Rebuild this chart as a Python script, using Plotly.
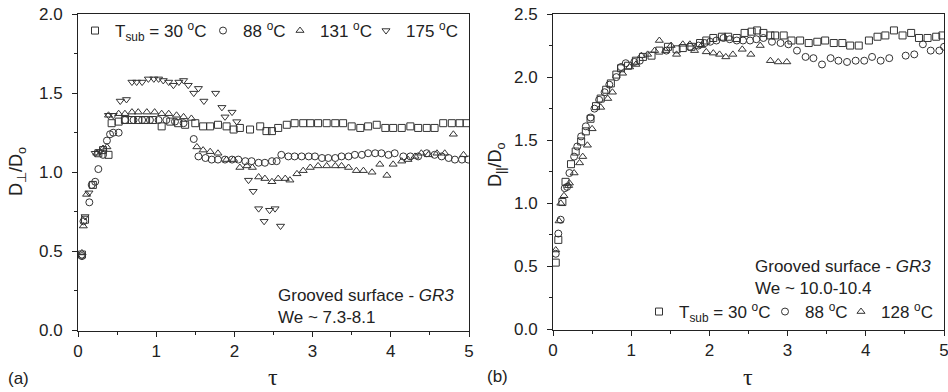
import plotly.graph_objects as go

# ---------------- Panel (a): D_perp / D_o ----------------
a30_x = [0.05, 0.09, 0.19, 0.26, 0.32, 0.39, 0.43, 0.52, 0.60, 0.69, 0.77, 0.86, 0.96, 1.07, 1.18, 1.28,
         1.37, 1.50, 1.60, 1.69, 1.79, 1.90, 1.99, 2.07, 2.20, 2.33, 2.41, 2.48, 2.56, 2.67, 2.77, 2.88,
         2.97, 3.07, 3.18, 3.29, 3.39, 3.50, 3.61, 3.71, 3.82, 3.93, 4.03, 4.14, 4.25, 4.35, 4.46, 4.56,
         4.67, 4.78, 4.88, 4.97]
a30_y = [0.48, 0.70, 0.92, 1.12, 1.14, 1.11, 1.31, 1.32, 1.33, 1.33, 1.33, 1.33, 1.33, 1.29, 1.32, 1.31,
         1.30, 1.31, 1.29, 1.29, 1.30, 1.29, 1.27, 1.28, 1.27, 1.29, 1.26, 1.26, 1.28, 1.30, 1.31, 1.31,
         1.31, 1.31, 1.31, 1.31, 1.31, 1.29, 1.28, 1.29, 1.30, 1.28, 1.28, 1.28, 1.29, 1.28, 1.28, 1.28,
         1.31, 1.31, 1.31, 1.31]

a88_x = [0.05, 0.07, 0.145, 0.175, 0.22, 0.26, 0.32, 0.37, 0.41, 0.45, 0.52, 0.60, 0.71, 0.82, 0.92, 1.03,
         1.13, 1.24, 1.35, 1.48, 1.54, 1.63, 1.71, 1.79, 1.88, 1.97, 2.05, 2.14, 2.22, 2.31, 2.39, 2.48,
         2.54, 2.60, 2.69, 2.77, 2.86, 2.95, 3.03, 3.12, 3.20, 3.29, 3.37, 3.46, 3.54, 3.63, 3.71, 3.80,
         3.88, 3.97, 4.05, 4.16, 4.25, 4.35, 4.46, 4.56, 4.65, 4.74, 4.82, 4.91, 4.99]
a88_y = [0.47, 0.69, 0.81, 0.92, 0.94, 1.02, 1.11, 1.20, 1.24, 1.25, 1.25, 1.33, 1.33, 1.33, 1.33, 1.33,
         1.33, 1.32, 1.31, 1.21, 1.10, 1.09, 1.08, 1.08, 1.08, 1.08, 1.08, 1.07, 1.07, 1.06, 1.06, 1.07,
         1.07, 1.11, 1.10, 1.10, 1.10, 1.10, 1.10, 1.09, 1.09, 1.09, 1.10, 1.10, 1.11, 1.11, 1.12, 1.12,
         1.12, 1.11, 1.12, 1.10, 1.10, 1.10, 1.12, 1.11, 1.10, 1.09, 1.08, 1.08, 1.08]

a131_x = [0.05, 0.068, 0.11, 0.24, 0.32, 0.37, 0.39, 0.52, 0.60, 0.69, 0.77, 0.88, 0.98, 1.07, 1.16, 1.26,
          1.35, 1.45, 1.52, 1.60, 1.69, 1.79, 1.90, 1.99, 2.07, 2.16, 2.23, 2.31, 2.39, 2.48, 2.56, 2.65,
          2.71, 2.80, 2.88, 2.97, 3.07, 3.18, 3.29, 3.37, 3.46, 3.56, 3.65, 3.76, 3.86, 3.95, 4.03, 4.14,
          4.22, 4.31, 4.39, 4.48, 4.59, 4.69, 4.80, 4.93]
a131_y = [0.49, 0.66, 0.86, 1.12, 1.15, 1.16, 1.36, 1.37, 1.37, 1.38, 1.38, 1.38, 1.38, 1.37, 1.37, 1.36,
          1.35, 1.34, 1.16, 1.14, 1.13, 1.12, 1.08, 1.08, 1.03, 1.04, 1.03, 0.97, 0.96, 0.94, 0.96, 0.96,
          0.95, 0.99, 1.01, 1.03, 1.04, 1.04, 1.04, 1.04, 1.03, 1.01, 1.01, 1.00, 1.05, 0.98, 1.05, 1.07,
          1.08, 1.10, 1.12, 1.11, 1.12, 1.12, 1.24, 1.11]

a175_x = [0.05, 0.09, 0.14, 0.22, 0.28, 0.39, 0.45, 0.54, 0.62, 0.69, 0.75, 0.82, 0.90, 0.97, 1.03, 1.09,
          1.16, 1.22, 1.29, 1.35, 1.41, 1.48, 1.54, 1.61, 1.76, 1.84, 1.88, 1.97, 2.03, 2.18, 2.24, 2.31,
          2.38, 2.45, 2.52, 2.59]
a175_y = [0.47, 0.72, 0.87, 1.12, 1.13, 1.36, 1.36, 1.45, 1.46, 1.57, 1.57, 1.57, 1.59, 1.59, 1.59, 1.58,
          1.57, 1.55, 1.57, 1.58, 1.55, 1.50, 1.53, 1.45, 1.50, 1.41, 1.35, 1.38, 1.32, 0.95, 0.88, 0.77,
          0.69, 0.76, 0.77, 0.66]

# ---------------- Panel (b): D_par / D_o ----------------
b30_x = [0.035, 0.068, 0.12, 0.16, 0.23, 0.29, 0.36, 0.42, 0.48, 0.55, 0.61, 0.68, 0.74, 0.81, 0.87, 0.96,
         1.06, 1.15, 1.26, 1.36, 1.47, 1.58, 1.66, 1.77, 1.88, 1.96, 2.05, 2.16, 2.24, 2.35, 2.45, 2.54,
         2.61, 2.69, 2.78, 2.84, 2.95, 3.05, 3.16, 3.27, 3.38, 3.48, 3.59, 3.70, 3.80, 3.91, 4.04, 4.15,
         4.25, 4.36, 4.47, 4.58, 4.68, 4.79, 4.90, 4.98]
b30_y = [0.53, 0.71, 1.01, 1.17, 1.31, 1.41, 1.49, 1.57, 1.67, 1.77, 1.83, 1.90, 1.95, 2.02, 2.07, 2.09,
         2.13, 2.16, 2.17, 2.21, 2.24, 2.22, 2.23, 2.24, 2.27, 2.29, 2.31, 2.32, 2.32, 2.31, 2.35, 2.36,
         2.37, 2.35, 2.33, 2.33, 2.33, 2.29, 2.29, 2.27, 2.28, 2.29, 2.27, 2.27, 2.25, 2.25, 2.29, 2.32,
         2.33, 2.37, 2.33, 2.35, 2.31, 2.31, 2.32, 2.33]

b88_x = [0.035, 0.068, 0.098, 0.15, 0.18, 0.21, 0.27, 0.31, 0.36, 0.42, 0.48, 0.53, 0.59, 0.66, 0.72, 0.81,
         0.87, 0.93, 1.04, 1.11, 1.45, 1.75, 1.86, 1.94, 2.01, 2.09, 2.18, 2.26, 2.35, 2.43, 2.52, 2.60,
         2.69, 2.80, 2.91, 3.01, 3.12, 3.23, 3.33, 3.44, 3.55, 3.65, 3.76, 3.87, 3.98, 4.08, 4.19, 4.30,
         4.51, 4.62, 4.73, 4.83, 4.94, 5.00]
b88_y = [0.60, 0.76, 0.87, 1.12, 1.13, 1.24, 1.37, 1.45, 1.53, 1.61, 1.68, 1.75, 1.82, 1.88, 1.94, 2.00,
         2.08, 2.11, 2.12, 2.13, 2.21, 2.24, 2.25, 2.27, 2.28, 2.29, 2.31, 2.30, 2.29, 2.29, 2.29, 2.30,
         2.31, 2.28, 2.27, 2.26, 2.21, 2.16, 2.15, 2.10, 2.15, 2.13, 2.12, 2.13, 2.13, 2.16, 2.13, 2.15,
         2.17, 2.18, 2.26, 2.21, 2.21, 2.24]

b128_x = [0.035, 0.078, 0.10, 0.14, 0.20, 0.21, 0.27, 0.34, 0.38, 0.44, 0.50, 0.61, 0.70, 0.76, 0.89, 0.98,
          1.06, 1.13, 1.21, 1.30, 1.36, 1.44, 1.51, 1.58, 1.66, 1.75, 1.81, 1.90, 1.96, 2.05, 2.13, 2.21,
          2.30, 2.42, 2.53, 2.65, 2.78, 2.88, 2.99]
b128_y = [0.63, 0.86, 1.00, 1.06, 1.14, 1.16, 1.24, 1.32, 1.37, 1.46, 1.59, 1.76, 1.83, 1.88, 2.03, 2.08,
          2.10, 2.17, 2.18, 2.21, 2.29, 2.21, 2.25, 2.18, 2.26, 2.26, 2.21, 2.25, 2.20, 2.19, 2.18, 2.16,
          2.18, 2.22, 2.18, 2.25, 2.13, 2.12, 2.12]

FONT = "Liberation Sans, Arial, Helvetica, sans-serif"
SERIF = "Liberation Serif, Times New Roman, serif"
INK = "#222222"
MK = "#333333"

W, H = 948, 392
def px(v): return v / W
def py(v): return 1 - v / H

fig = go.Figure()

# each legend entry gets its own legend box so it can sit where the reference places it
legend_specs = {}
def add(xs, ys, sym, name, xa, ya, leg, sym_x, sym_y):
    fig.add_trace(go.Scatter(
        x=xs, y=ys, mode="markers", name=name, xaxis=xa, yaxis=ya, legend=leg,
        marker=dict(symbol=sym, size=7, color=MK, line=dict(width=1, color=MK)),
        hoverinfo="x+y"))
    legend_specs[leg] = dict(orientation="h", x=px(sym_x - 22), xanchor="left",
                             y=py(sym_y), yanchor="middle", bgcolor="rgba(0,0,0,0)",
                             borderwidth=0, itemwidth=30,
                             font=dict(family=FONT, size=17, color=INK))

add(a30_x, a30_y, "square-open", "T<sub>sub</sub> = 30 <sup>o</sup>C", "x", "y", "legend", 97, 31)
add(a88_x, a88_y, "circle-open", "88 <sup>o</sup>C", "x", "y", "legend2", 225, 31)
add(a131_x, a131_y, "triangle-up-open", "131 <sup>o</sup>C", "x", "y", "legend3", 302, 31)
add(a175_x, a175_y, "triangle-down-open", "175 <sup>o</sup>C", "x", "y", "legend4", 388, 31)

add(b30_x, b30_y, "square-open", "T<sub>sub</sub> = 30 <sup>o</sup>C", "x2", "y2", "legend5", 661, 312)
add(b88_x, b88_y, "circle-open", "88 <sup>o</sup>C", "x2", "y2", "legend6", 787, 312)
add(b128_x, b128_y, "triangle-up-open", "128 <sup>o</sup>C", "x2", "y2", "legend7", 863, 312)

tickfont = dict(family=FONT, size=17, color=INK)
common_x = dict(range=[0, 5], dtick=1, tick0=0, ticks="outside", ticklen=5, tickwidth=1, tickcolor=INK,
                showline=True, linecolor=INK, linewidth=1, mirror=True, showgrid=False, zeroline=False,
                tickfont=tickfont, automargin=False, ticklabeloverflow="allow",
                minor=dict(ticks="outside", ticklen=3, dtick=0.5, tick0=0, tickcolor=INK, showgrid=False))
common_y = dict(dtick=0.5, tick0=0, ticks="outside", ticklen=5, tickwidth=1, tickcolor=INK, tickformat=".1f",
                showline=True, linecolor=INK, linewidth=1, mirror=True, showgrid=False, zeroline=False,
                tickfont=tickfont, ticklabelstandoff=6, automargin=False, ticklabeloverflow="allow",
                minor=dict(ticks="outside", ticklen=3, dtick=0.25, tick0=0, tickcolor=INK, showgrid=False))

fig.update_layout(
    template="none",
    width=W, height=H, margin=dict(l=0, r=0, t=0, b=0, pad=0, autoexpand=False),
    paper_bgcolor="white", plot_bgcolor="white",
    font=dict(family=FONT, size=17, color=INK),
    xaxis=dict(domain=[px(78), px(469)], anchor="y", **common_x),
    yaxis=dict(domain=[py(330.5), py(14)], anchor="x", range=[0, 2], **common_y),
    xaxis2=dict(domain=[px(553), px(944)], anchor="y2", **common_x),
    yaxis2=dict(domain=[py(329.5), py(14)], anchor="x2", range=[0, 2.5], **common_y),
    showlegend=True,
    **legend_specs,
)

ann = []
def text(x, y, t, size=17, family=FONT, xanchor="left", **kw):
    ann.append(dict(x=px(x), y=py(y), xref="paper", yref="paper", text=t, showarrow=False,
                    font=dict(family=family, size=size, color=INK),
                    xanchor=xanchor, yanchor="middle", **kw))

text(276, 295, "Grooved surface - <i>GR3</i>")
text(276, 317, "We ~ 7.3-8.1")
text(753, 266, "Grooved surface - <i>GR3</i>")
text(753, 288, "We ~ 10.0-10.4")
text(18, 378, "(a)", xanchor="center")
text(497, 376, "(b)", xanchor="center")
text(273, 377, "τ", size=24, family=SERIF, xanchor="center")
text(748, 377, "τ", size=24, family=SERIF, xanchor="center")
text(18, 172, "D<sub>⊥</sub>/D<sub>o</sub>", size=18, xanchor="center", textangle=-90)
text(496, 165, "D<sub>||</sub>/D<sub>o</sub>", size=18, xanchor="center", textangle=-90)

fig.update_layout(annotations=ann)
fig.write_html("out.html", config={"displayModeBar": False},
               post_script="document.body.style.margin='0';document.body.style.overflow='hidden';")
